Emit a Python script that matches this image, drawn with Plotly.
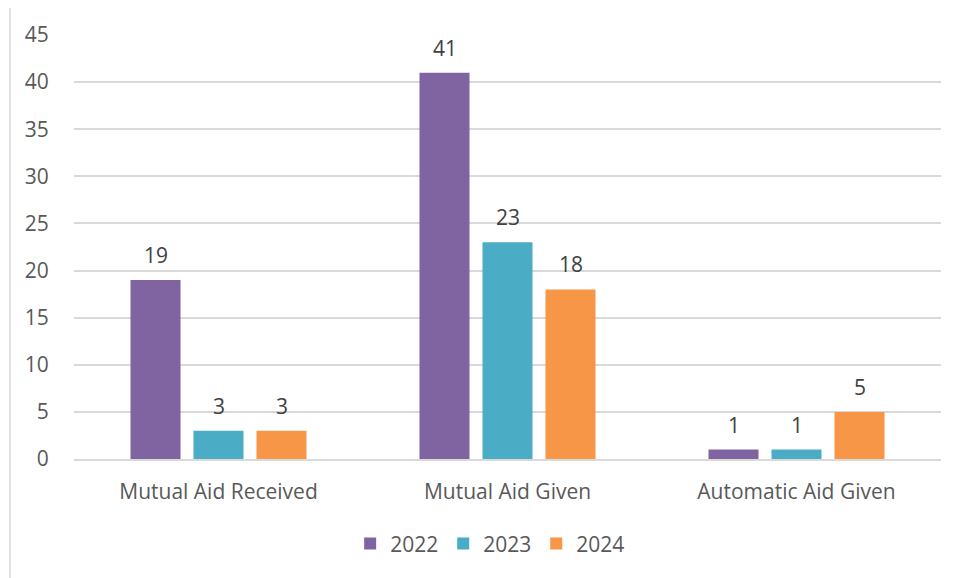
import plotly.graph_objects as go

categories = ["Mutual Aid Received", "Mutual Aid Given", "Automatic Aid Given"]
years = ["2022", "2023", "2024"]
values_2022 = [19, 41, 1]
values_2023 = [3, 23, 1]
values_2024 = [3, 18, 5]
colors = ["#8064A2", "#4BACC6", "#F79646"]

series = [values_2022, values_2023, values_2024]
font_family = "Open Sans, Liberation Sans, sans-serif"
FS = 21

fig = go.Figure()
for name, vals, col in zip(years, series, colors):
    fig.add_trace(go.Bar(name=name, x=categories, y=vals, marker_color=col,
                         marker_line_width=0, offsetgroup=name))

# data labels
n = len(years)
bargap = 0.346
for i, (name, vals) in enumerate(zip(years, series)):
    for j, v in enumerate(vals):
        slot = (1 - bargap) / n
        off = (i - (n - 1) / 2) * slot
        fig.add_annotation(x=j + off, y=v, xref="x", yref="y", text=str(v),
                           showarrow=False, yanchor="bottom", yshift=9,
                           font=dict(size=FS, color="#404040", family=font_family))

fig.add_shape(type="rect", xref="paper", yref="paper",
              x0=(10 - 74) / 867, x1=1.2, y0=-0.6, y1=(459.3 - 6) / 424.3,
              line=dict(color="#D9D9D9", width=1.5), layer="below")

fig.update_layout(
    width=948, height=570,
    margin=dict(l=66, r=15, t=27, b=119),
    paper_bgcolor="white", plot_bgcolor="white",
    barmode="group", bargap=bargap, bargroupgap=0.206,
    font=dict(family=font_family, size=FS, color="#595959"),
    showlegend=True,
    legend=dict(orientation="h", x=0.48, xanchor="center", y=-0.2, yanchor="middle",
                font=dict(size=FS, color="#595959"), itemwidth=30, traceorder="normal"),
    xaxis=dict(type="category", showgrid=False, ticks="outside", ticklen=13,
               tickcolor="rgba(0,0,0,0)", showline=True, linecolor="#D9D9D9", linewidth=1.5,
               tickfont=dict(size=FS, color="#595959")),
    yaxis=dict(range=[0, 45], dtick=5, showgrid=True, gridcolor="#D9D9D9", gridwidth=1.5,
               zeroline=False, ticks="outside", ticklen=20, tickcolor="rgba(0,0,0,0)",
               tickfont=dict(size=FS, color="#595959")),
)

fig.write_html("out.html")
